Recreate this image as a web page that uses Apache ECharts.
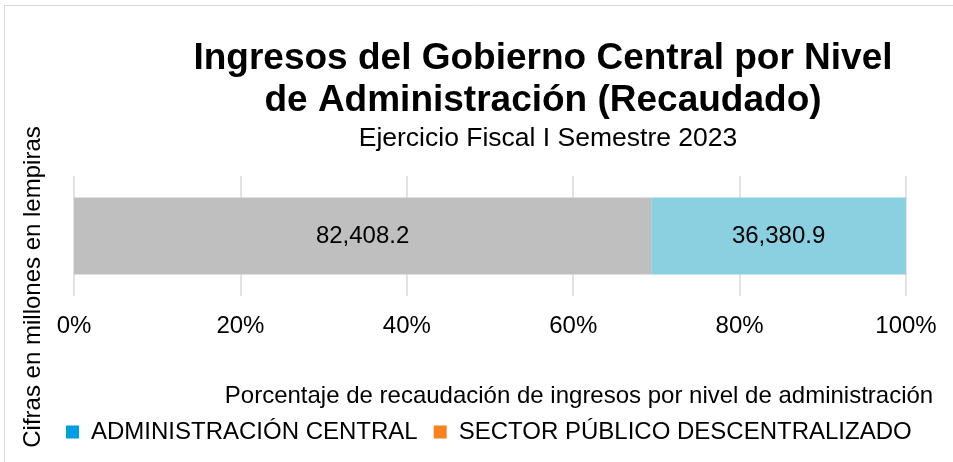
<!DOCTYPE html>
<html>
<head>
<meta charset="utf-8">
<script src="https://cdn.jsdelivr.net/npm/echarts@6/dist/echarts.min.js"></script>
<style>
  html, body { margin: 0; padding: 0; background: #fff; }
  #chart { width: 953px; height: 462px; }
</style>
</head>
<body>
<div id="chart"></div>
<script>
const categories = ['']
const seriesNames = ['ADMINISTRACIÓN CENTRAL', 'SECTOR PÚBLICO DESCENTRALIZADO']
const centralValues = [82408.2]
const descentralizadoValues = [36380.9]
const xTicks = [0, 20, 40, 60, 80, 100]

const font = 'Liberation Sans, Arial, sans-serif'

// valores en porcentaje del total (barra 100% apilada)
const totals = categories.map((c, i) => centralValues[i] + descentralizadoValues[i])
const toPct = (arr) => arr.map((v, i) => ({ value: v / totals[i] * 100, raw: v }))

const fmt = (v) => v.toLocaleString('en-US', { minimumFractionDigits: 1, maximumFractionDigits: 1 })

const chart = echarts.init(document.getElementById('chart'))

chart.setOption({
  backgroundColor: '#fff',
  animation: false,
  textStyle: { fontFamily: font },
  title: [
    {
      text: 'Ingresos del Gobierno Central por Nivel\nde Administración (Recaudado)',
      left: 538,
      top: 33,
      textAlign: 'center',
      textStyle: { fontSize: 37, fontWeight: 'bold', color: '#000', lineHeight: 42, fontFamily: font }
    },
    {
      text: 'Ejercicio Fiscal I Semestre 2023',
      left: 543,
      top: 119,
      textAlign: 'center',
      textStyle: { fontSize: 26.5, fontWeight: 'normal', color: '#000', lineHeight: 30, fontFamily: font }
    }
  ],
  legend: {
    left: 61,
    top: 415,
    icon: 'rect',
    itemWidth: 13,
    itemHeight: 13,
    itemGap: 16,
    textStyle: { fontSize: 24, color: '#000', fontFamily: font, padding: [0, 0, 0, 7] },
    data: [
      { name: seriesNames[0], itemStyle: { color: '#00A0E0' } },
      { name: seriesNames[1], itemStyle: { color: '#F5821F' } }
    ]
  },
  grid: {
    left: 74,
    right: 47,
    top: 176,
    bottom: 166
  },
  xAxis: {
    type: 'value',
    min: 0,
    max: 100,
    interval: 20,
    axisLine: { show: false },
    axisTick: { show: false },
    axisLabel: {
      margin: 18,
      fontSize: 24,
      color: '#000',
      fontFamily: font,
      formatter: (v) => xTicks.includes(v) ? v + '%' : ''
    },
    splitLine: { lineStyle: { color: '#D9D9D9', width: 1.5 } }
  },
  yAxis: {
    type: 'category',
    data: categories,
    axisLine: { show: false },
    axisTick: { show: false },
    axisLabel: { show: false }
  },
  series: [
    {
      name: seriesNames[0],
      type: 'bar',
      stack: 'total',
      barWidth: 77,
      data: toPct(centralValues),
      itemStyle: { color: '#BFBFBF' },
      label: {
        show: true,
        position: 'inside',
        fontSize: 24,
        color: '#000',
        fontFamily: font,
        formatter: (p) => fmt(p.data.raw)
      }
    },
    {
      name: seriesNames[1],
      type: 'bar',
      stack: 'total',
      barWidth: 77,
      data: toPct(descentralizadoValues),
      itemStyle: { color: '#8BD0E0' },
      label: {
        show: true,
        position: 'inside',
        fontSize: 24,
        color: '#000',
        fontFamily: font,
        formatter: (p) => fmt(p.data.raw)
      }
    }
  ],
  graphic: [
    {
      type: 'rect',
      shape: { x: 4.5, y: 5.5, width: 2000, height: 2000 },
      style: { fill: 'none', stroke: '#D9D9D9', lineWidth: 1 },
      silent: true
    },
    {
      type: 'text',
      x: 579,
      y: 396,
      style: {
        text: 'Porcentaje de recaudación de ingresos por nivel de administración',
        fontSize: 24,
        fill: '#000',
        fontFamily: font,
        align: 'center',
        verticalAlign: 'middle'
      }
    },
    {
      type: 'text',
      x: 33,
      y: 287,
      rotation: Math.PI / 2,
      style: {
        text: 'Cifras en millones en lempiras',
        fontSize: 24,
        fill: '#000',
        fontFamily: font,
        align: 'center',
        verticalAlign: 'middle'
      }
    }
  ]
})

window.addEventListener('resize', () => chart.resize())
</script>
</body>
</html>
